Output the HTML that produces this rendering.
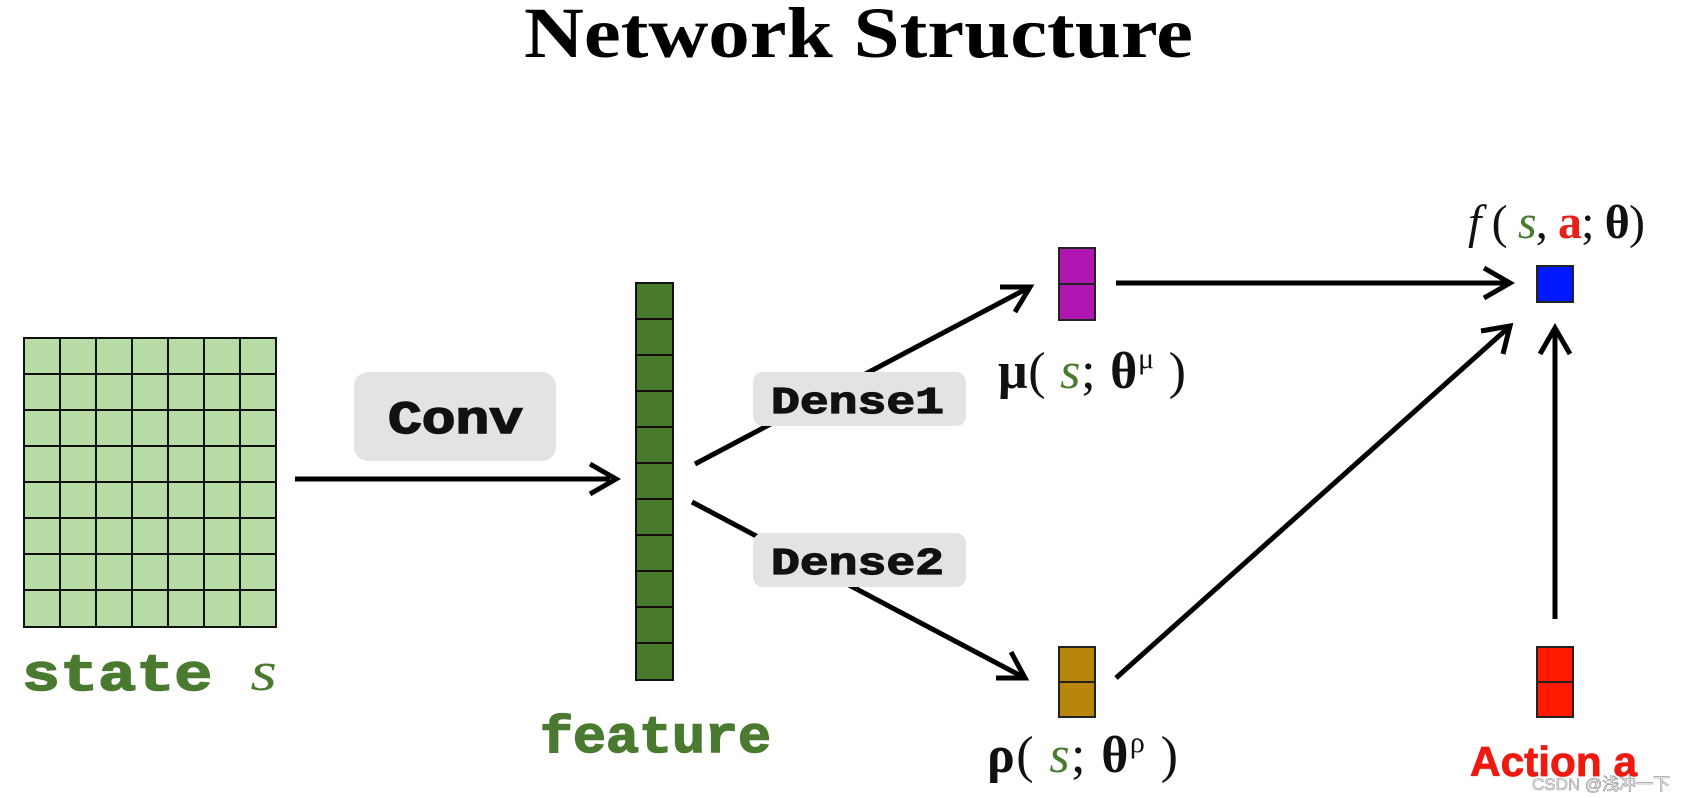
<!DOCTYPE html>
<html><head><meta charset="utf-8"><style>
html,body{margin:0;padding:0;background:#fff;}
svg{display:block;}
</style></head><body>
<svg width="1683" height="798" viewBox="0 0 1683 798" xmlns="http://www.w3.org/2000/svg">
<text x="524" y="57" textLength="669" lengthAdjust="spacingAndGlyphs" font-family="Liberation Serif, serif" font-weight="bold" font-size="72" fill="#000">Network Structure</text>

<!-- grid -->
<rect x="24" y="338" width="252" height="289" fill="#b8dca6" stroke="#111" stroke-width="2"/>
<g stroke="#111" stroke-width="2">
<line x1="60" y1="338" x2="60" y2="627"/><line x1="96" y1="338" x2="96" y2="627"/><line x1="132" y1="338" x2="132" y2="627"/>
<line x1="168" y1="338" x2="168" y2="627"/><line x1="204" y1="338" x2="204" y2="627"/><line x1="240" y1="338" x2="240" y2="627"/>
<line x1="24" y1="374" x2="276" y2="374"/><line x1="24" y1="410" x2="276" y2="410"/><line x1="24" y1="446" x2="276" y2="446"/>
<line x1="24" y1="482" x2="276" y2="482"/><line x1="24" y1="518" x2="276" y2="518"/><line x1="24" y1="554" x2="276" y2="554"/>
<line x1="24" y1="590" x2="276" y2="590"/>
</g>
<text x="22" y="690" textLength="255" lengthAdjust="spacingAndGlyphs" font-family="Liberation Mono, monospace" font-weight="bold" font-size="52" fill="#4a7a30" stroke="#4a7a30" stroke-width="1.5">state <tspan font-family="Liberation Serif, serif" font-style="italic" font-weight="normal" stroke-width="0" font-size="56">s</tspan></text>

<!-- conv -->
<rect x="354" y="372" width="202" height="89" rx="14" fill="#e3e3e5"/>
<text x="388" y="433" textLength="135" lengthAdjust="spacingAndGlyphs" font-family="Liberation Mono, monospace" font-weight="bold" font-size="46" fill="#111" stroke="#111" stroke-width="1.5">Conv</text>
<line x1="295" y1="479" x2="610" y2="479" stroke="#000" stroke-width="5"/>
<path d="M590 464 L616 479 L590 494" fill="none" stroke="#000" stroke-width="5"/>

<!-- feature -->
<rect x="636" y="283" width="37" height="397" fill="#487a2c" stroke="#111" stroke-width="2"/>
<g stroke="#111" stroke-width="2">
<line x1="636" y1="319" x2="673" y2="319"/><line x1="636" y1="355" x2="673" y2="355"/><line x1="636" y1="391" x2="673" y2="391"/>
<line x1="636" y1="427" x2="673" y2="427"/><line x1="636" y1="463" x2="673" y2="463"/><line x1="636" y1="499" x2="673" y2="499"/>
<line x1="636" y1="535" x2="673" y2="535"/><line x1="636" y1="571" x2="673" y2="571"/><line x1="636" y1="607" x2="673" y2="607"/>
<line x1="636" y1="643" x2="673" y2="643"/>
</g>
<text x="540" y="752" textLength="231" lengthAdjust="spacingAndGlyphs" font-family="Liberation Mono, monospace" font-weight="bold" font-size="52" fill="#4a7a30" stroke="#4a7a30" stroke-width="1.5">feature</text>

<g stroke="#000" stroke-width="5" fill="none">
<line x1="695" y1="464" x2="1028" y2="288"/>
<path d="M1000 287 L1030 287 L1015 312"/>
<line x1="692" y1="502" x2="1023" y2="677"/>
<path d="M1011 652 L1025 678 L996 678"/>
<line x1="1116" y1="283" x2="1508" y2="283"/>
<path d="M1484 268 L1510 283 L1484 298"/>
<line x1="1116" y1="678" x2="1508" y2="328"/>
<path d="M1481 331 L1510 326 L1503 354"/>
<line x1="1555" y1="619" x2="1555" y2="330"/>
<path d="M1540 354 L1555 328 L1570 354"/>
</g>

<!-- dense boxes (on top of lines) -->
<rect x="753" y="372" width="213" height="54" rx="10" fill="#e3e3e5"/>
<text x="771" y="413" textLength="173" lengthAdjust="spacingAndGlyphs" font-family="Liberation Mono, monospace" font-weight="bold" font-size="38" fill="#111" stroke="#111" stroke-width="1.2">Dense1</text>
<rect x="753" y="533" width="213" height="54" rx="10" fill="#e3e3e5"/>
<text x="771" y="574" textLength="173" lengthAdjust="spacingAndGlyphs" font-family="Liberation Mono, monospace" font-weight="bold" font-size="38" fill="#111" stroke="#111" stroke-width="1.2">Dense2</text>

<!-- mu -->
<rect x="1059" y="248" width="36" height="72" fill="#b016b0" stroke="#222" stroke-width="2"/>
<line x1="1059" y1="284" x2="1095" y2="284" stroke="#222" stroke-width="2"/>
<text x="998" y="388" textLength="188" lengthAdjust="spacing" font-family="Liberation Serif, serif" font-size="52" fill="#111"><tspan font-weight="bold">μ</tspan>( <tspan fill="#4a7a30" font-style="italic">s</tspan>; <tspan font-weight="bold">θ</tspan><tspan font-size="30" dy="-20">μ</tspan><tspan dy="20"> )</tspan></text>

<!-- blue -->
<rect x="1537" y="266" width="36" height="36" fill="#0019ff" stroke="#222" stroke-width="2"/>
<text x="1468" y="238" textLength="177" lengthAdjust="spacing" font-family="Liberation Serif, serif" font-size="48" fill="#111"><tspan font-style="italic">f</tspan> ( <tspan fill="#4a7a30" font-style="italic">s</tspan>, <tspan fill="#e8201a" font-weight="bold">a</tspan>; <tspan font-weight="bold">θ</tspan>)</text>

<!-- rho -->
<rect x="1059" y="647" width="36" height="70" fill="#b8860b" stroke="#222" stroke-width="2"/>
<line x1="1059" y1="682" x2="1095" y2="682" stroke="#222" stroke-width="2"/>
<text x="987" y="772" textLength="191" lengthAdjust="spacing" font-family="Liberation Serif, serif" font-size="52" fill="#111"><tspan font-weight="bold">ρ</tspan>( <tspan fill="#4a7a30" font-style="italic">s</tspan>; <tspan font-weight="bold">θ</tspan><tspan font-size="30" dy="-20">ρ</tspan><tspan dy="20"> )</tspan></text>

<!-- action -->
<rect x="1537" y="647" width="36" height="70" fill="#ff1a00" stroke="#222" stroke-width="2"/>
<line x1="1537" y1="682" x2="1573" y2="682" stroke="#222" stroke-width="2"/>
<text x="1470" y="776" textLength="167" lengthAdjust="spacingAndGlyphs" font-family="Liberation Sans, sans-serif" font-weight="bold" font-size="42" fill="#ee1a10" stroke="#ee1a10" stroke-width="0.8">Action a</text>
<text x="1532" y="790" font-family="Liberation Sans, 'Noto Sans CJK SC', sans-serif" font-size="17" fill="#fff" stroke="#888" stroke-width="0.6">CSDN @浅冲一下</text>
</svg>
</body></html>
